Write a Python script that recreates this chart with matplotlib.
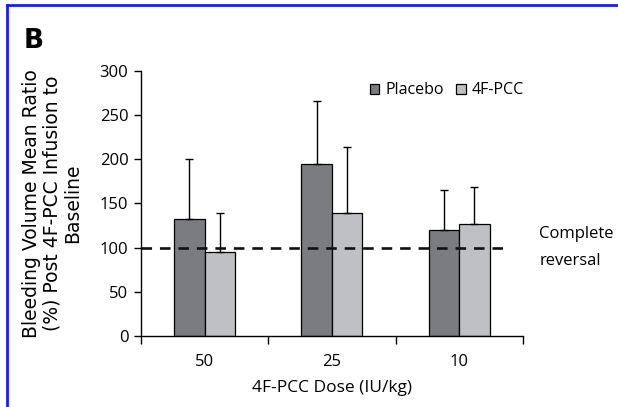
import matplotlib
matplotlib.use('Agg')

import numpy as np
import matplotlib.pyplot as plt
from matplotlib.lines import Line2D

plt.rcParams['font.family'] = ['Open Sans', 'DejaVu Sans']

# ===== 数据 =====
doses = ['50', '25', '10']
placebo = [132, 194.5, 120]
placebo_err = [68, 71, 45]
pcc = [94.5, 139, 126.5]
pcc_err = [44.5, 74.5, 42]
series_names = ['Placebo', '4F-PCC']
baseline = 100

fig = plt.figure(figsize=(6.18, 4.07), dpi=100)
ax = fig.add_axes([0.228, 0.1744, 0.618, 0.652])

x = np.arange(len(doses))
w = 0.24
err_kw = dict(ecolor='black', elinewidth=1.0, capsize=3, capthick=1.0)
ax.bar(x - w / 2, placebo, w, color='#7b7c80', edgecolor='black', linewidth=0.9,
       yerr=[np.zeros(len(placebo)), placebo_err], error_kw=err_kw,
       label=series_names[0], zorder=2)
ax.bar(x + w / 2, pcc, w, color='#bfc0c4', edgecolor='black', linewidth=0.9,
       yerr=[np.zeros(len(pcc)), pcc_err], error_kw=err_kw,
       label=series_names[1], zorder=2)

# 虚线: 完全逆转
ax.plot([-0.5, 2.38], [baseline, baseline], color='#111111', linestyle=(0, (4, 3)),
        linewidth=1.9, zorder=3, clip_on=False)
ax.text(2.63, baseline, 'Complete\nreversal', fontsize=12, va='center', ha='left',
        linespacing=1.9)

ax.set_xlim(-0.5, 2.5)
ax.set_ylim(0, 300)
ax.set_yticks(range(0, 301, 50))
ax.set_xticks(x)
ax.set_xticklabels(doses)
ax.set_xticks([-0.5, 0.5, 1.5, 2.5], minor=True)
ax.tick_params(axis='x', which='major', length=0, pad=13, labelsize=12)
ax.tick_params(axis='x', which='minor', length=6, direction='out', width=1)
ax.tick_params(axis='y', length=5, direction='out', width=1, labelsize=12, pad=4)
for s in ['top', 'right']:
    ax.spines[s].set_visible(False)
for s in ['left', 'bottom']:
    ax.spines[s].set_linewidth(1.0)

ax.set_xlabel('4F-PCC Dose (IU/kg)', fontsize=12.5, labelpad=7)

leg = ax.legend(loc='upper right', bbox_to_anchor=(1.04, 1.01), ncol=2, frameon=False,
                fontsize=11.5, handlelength=0.6, handleheight=0.6, handletextpad=0.35,
                columnspacing=0.8)

fig.text(0.084, 0.5, 'Bleeding Volume Mean Ratio\n(%) Post 4F-PCC Infusion to\nBaseline',
         rotation=90, ha='center', va='center', fontsize=13.5, family='DejaVu Sans',
         linespacing=1.1)
fig.text(0.038, 0.9, 'B', fontsize=19, fontweight='bold', family='DejaVu Sans',
         ha='left', va='center')

# 蓝色边框
fig.add_artist(Line2D([0.012, 0.012], [0, 0.988], color='#1a1aff', linewidth=2,
                      transform=fig.transFigure))
fig.add_artist(Line2D([0.012, 1], [0.988, 0.988], color='#1a1aff', linewidth=2,
                      transform=fig.transFigure))

fig.savefig('out.png', dpi=100)
